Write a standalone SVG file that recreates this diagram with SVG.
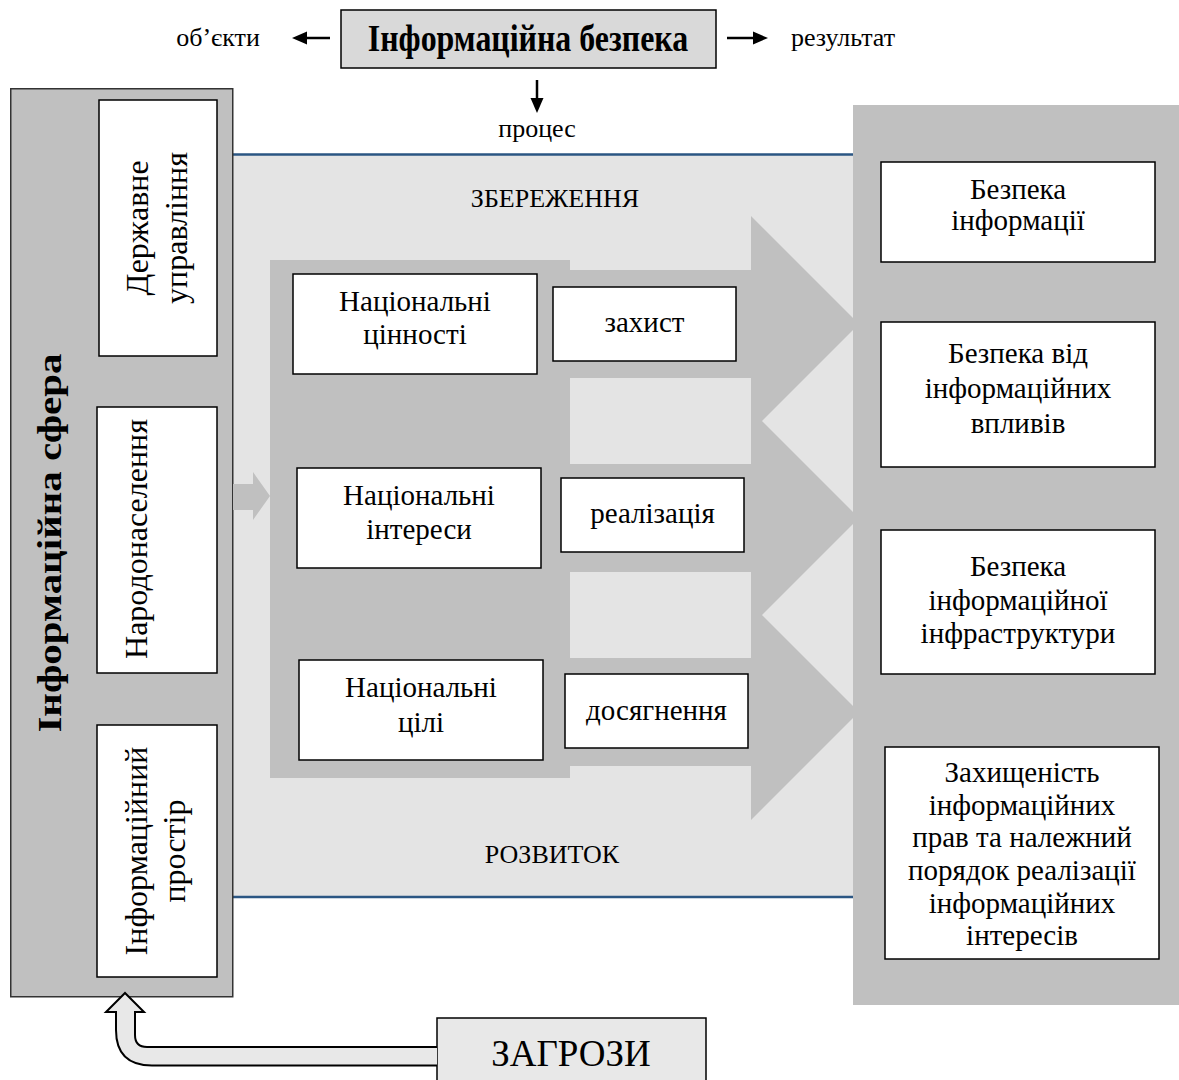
<svg xmlns="http://www.w3.org/2000/svg" width="1179" height="1080" viewBox="0 0 1179 1080">
<defs>
<style>
text{font-family:"Liberation Serif","Times New Roman",serif;fill:#000}
.box{fill:#fff;stroke:#000;stroke-width:1.5}
.gray{fill:#c0c0c0}
.t29{font-size:29px;text-anchor:middle}
.t26{font-size:26px;text-anchor:middle}
.v32{font-size:32px;text-anchor:middle}
.ln{stroke:#000;stroke-width:2.5;fill:none}
.head{fill:#000}
.blue{stroke:#2b5683;stroke-width:2.5}
</style>
</defs>
<rect width="1179" height="1080" fill="#fff"/>

<g id="process-area">
<rect x="233" y="155" width="620" height="742" fill="#e4e4e4"/>
<line class="blue" x1="233" y1="154.5" x2="853" y2="154.5"/>
<line class="blue" x1="233" y1="897" x2="853" y2="897"/>
<text class="t26" x="555" y="207">ЗБЕРЕЖЕННЯ</text>
<text class="t26" x="552" y="863">РОЗВИТОК</text>
</g>

<g id="big-arrow" class="gray">
<rect x="270" y="260" width="300" height="518"/>
<polygon points="570,270 751,270 751,216 859,324 751,432 751,378 570,378"/>
<polygon points="570,464 751,464 751,410 859,518 751,626 751,572 570,572"/>
<polygon points="570,658 751,658 751,604 859,712 751,820 751,766 570,766"/>
</g>

<g id="values">
<rect class="box" x="293" y="274" width="244" height="100"/>
<text class="t29" x="415" y="311">Національні</text>
<text class="t29" x="415" y="344">цінності</text>
</g>
<g id="protect">
<rect class="box" x="553" y="287" width="183" height="74"/>
<text class="t29" x="644.5" y="332">захист</text>
</g>
<g id="interests">
<rect class="box" x="297" y="468" width="244" height="100"/>
<text class="t29" x="419" y="505">Національні</text>
<text class="t29" x="419" y="539">інтереси</text>
</g>
<g id="realize">
<rect class="box" x="561" y="478" width="183" height="74"/>
<text class="t29" x="652.5" y="523">реалізація</text>
</g>
<g id="goals">
<rect class="box" x="299" y="660" width="244" height="100"/>
<text class="t29" x="421" y="697">Національні</text>
<text class="t29" x="421" y="732">цілі</text>
</g>
<g id="achieve">
<rect class="box" x="565" y="674" width="183" height="74"/>
<text class="t29" x="656.5" y="720">досягнення</text>
</g>

<g id="result-panel">
<rect class="gray" x="853" y="105" width="326" height="900"/>
</g>
<g id="r1">
<rect class="box" x="881" y="162" width="274" height="100"/>
<text class="t29" x="1018" y="199">Безпека</text>
<text class="t29" x="1018" y="230">інформації</text>
</g>
<g id="r2">
<rect class="box" x="881" y="322" width="274" height="145"/>
<text class="t29" x="1018" y="363">Безпека від</text>
<text class="t29" x="1018" y="398">інформаційних</text>
<text class="t29" x="1018" y="433">впливів</text>
</g>
<g id="r3">
<rect class="box" x="881" y="530" width="274" height="144"/>
<text class="t29" x="1018" y="576">Безпека</text>
<text class="t29" x="1018" y="610">інформаційної</text>
<text class="t29" x="1018" y="643">інфраструктури</text>
</g>
<g id="r4">
<rect class="box" x="885" y="747" width="274" height="212"/>
<text class="t29" x="1022" y="782">Захищеність</text>
<text class="t29" x="1022" y="815">інформаційних</text>
<text class="t29" x="1022" y="847">прав та належний</text>
<text class="t29" x="1022" y="880">порядок реалізації</text>
<text class="t29" x="1022" y="913">інформаційних</text>
<text class="t29" x="1022" y="945">інтересів</text>
</g>

<g id="info-sphere">
<rect x="10.75" y="88.75" width="222" height="908" fill="#c0c0c0" stroke="#333" stroke-width="1.5"/>
<text transform="translate(60.5,543) rotate(-90) scale(1,0.81)" style="font-size:41px;font-weight:bold;text-anchor:middle">Інформаційна сфера</text>
</g>
<g id="gov">
<rect class="box" x="99" y="100" width="118" height="256"/>
<text class="v32" transform="translate(148,228) rotate(-90)">Державне</text>
<text class="v32" transform="translate(187,228) rotate(-90)">управління</text>
</g>
<g id="population">
<rect class="box" x="97" y="407" width="120" height="266"/>
<text class="v32" transform="translate(147,539) rotate(-90)">Народонаселення</text>
</g>
<g id="space">
<rect class="box" x="97" y="725" width="120" height="252"/>
<text class="v32" transform="translate(147,851) rotate(-90)">Інформаційний</text>
<text class="v32" transform="translate(185,851) rotate(-90)">простір</text>
</g>

<g id="info-security">
<rect x="341" y="10" width="375" height="58" fill="#d9d9d9" stroke="#000" stroke-width="1.5"/>
<text transform="translate(528,51) scale(0.84,1)" style="font-size:38px;font-weight:bold;text-anchor:middle">Інформаційна безпека</text>
</g>
<g id="labels">
<text class="t26" x="218" y="46">об’єкти</text>
<text class="t26" x="843" y="46">результат</text>
<text class="t26" x="537" y="137">процес</text>
</g>

<g id="threats">
<rect x="437" y="1018" width="269" height="70" fill="#e8e8e8" stroke="#000" stroke-width="1.5"/>
<text x="571" y="1066" style="font-size:37px;text-anchor:middle">ЗАГРОЗИ</text>
</g>

<g id="connectors">
<line class="ln" x1="330" y1="38" x2="305" y2="38"/>
<polygon class="head" points="292,38 307,31.5 307,44.5"/>
<line class="ln" x1="727" y1="38" x2="755" y2="38"/>
<polygon class="head" points="768,38 753,31.5 753,44.5"/>
<line class="ln" x1="537" y1="80" x2="537" y2="100"/>
<polygon class="head" points="537,113 530.5,98 543.5,98"/>
<polygon class="gray" points="233,484 253,484 253,472 270,496 253,520 253,510 233,510"/>
<path d="M437,1065.5 L152,1065.5 Q116,1065.5 116,1030 L116,1012 L106,1012 L125,993 L144,1012 L135,1012 L135,1035 Q135,1047 147,1047 L437,1047" fill="#e8e8e8" stroke="#000" stroke-width="2" stroke-linejoin="miter"/>
</g>
</svg>
